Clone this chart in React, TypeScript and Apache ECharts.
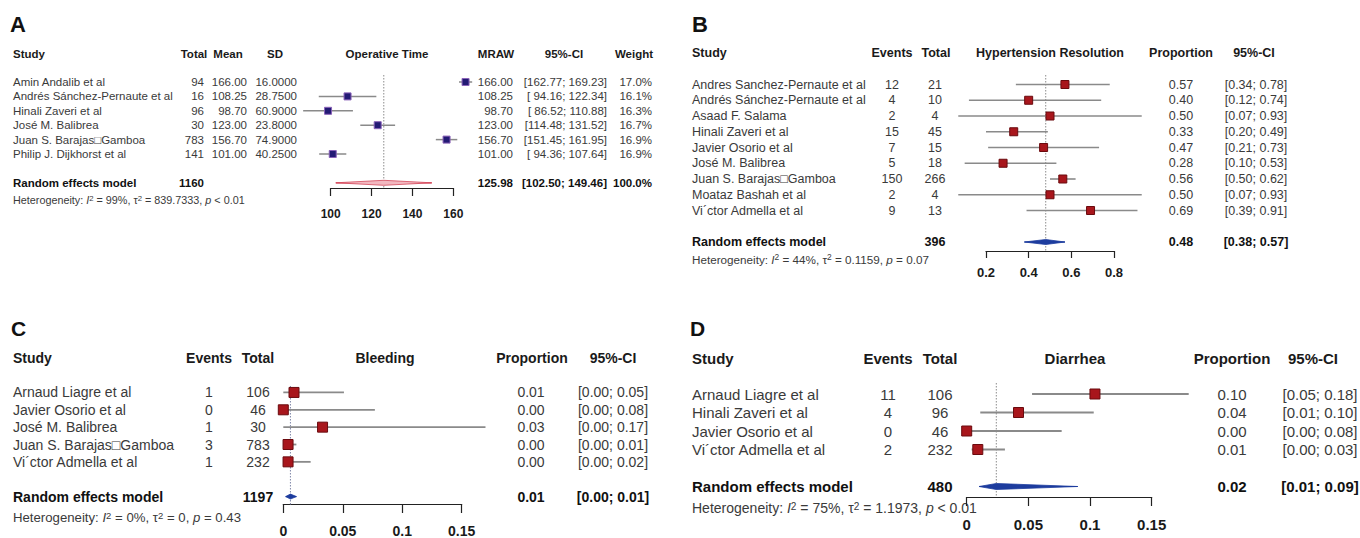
import React, { useEffect, useRef } from "react";
import * as echarts from "echarts";

const FONT = '"Liberation Sans", Arial, Helvetica, sans-serif';

// ---------- Panel A: Operative Time ----------
const studiesA = [
  "Amin Andalib et al",
  "Andrés Sánchez-Pernaute et al",
  "Hinali Zaveri et al",
  "José M. Balibrea",
  "Juan S. Barajas\u25A1Gamboa",
  "Philip J. Dijkhorst et al",
];
const totalA = [94, 16, 96, 30, 783, 141];
const meanA = [166.0, 108.25, 98.7, 123.0, 156.7, 101.0];
const sdA = [16.0, 28.75, 60.9, 23.8, 74.9, 40.25];
const loA = [162.77, 94.16, 86.52, 114.48, 151.45, 94.36];
const hiA = [169.23, 122.34, 110.88, 131.52, 161.95, 107.64];
const weightA = [17.0, 16.1, 16.3, 16.7, 16.9, 16.9];
const pooledTotalA = 1160;
const pooledA = [125.98, 102.5, 149.46];
const ticksA = [100, 120, 140, 160];
const hetA = ["99%", "839.7333", "< 0.01"];

// ---------- Panel B: Hypertension Resolution ----------
const studiesB = [
  "Andres Sanchez-Pernaute et al",
  "Andrés Sánchez-Pernaute et al",
  "Asaad F. Salama",
  "Hinali Zaveri et al",
  "Javier Osorio et al",
  "José M. Balibrea",
  "Juan S. Barajas\u25A1Gamboa",
  "Moataz Bashah et al",
  "Vi\u00B4ctor Admella et al",
];
const eventsB = [12, 4, 2, 15, 7, 5, 150, 2, 9];
const totalB = [21, 10, 4, 45, 15, 18, 266, 4, 13];
const propB = [0.57, 0.4, 0.5, 0.33, 0.47, 0.28, 0.56, 0.5, 0.69];
const loB = [0.34, 0.12, 0.07, 0.2, 0.21, 0.1, 0.5, 0.07, 0.39];
const hiB = [0.78, 0.74, 0.93, 0.49, 0.73, 0.53, 0.62, 0.93, 0.91];
const pooledTotalB = 396;
const pooledB = [0.48, 0.38, 0.57];
const ticksB = [0.2, 0.4, 0.6, 0.8];
const hetB = ["44%", "0.1159", "= 0.07"];

// ---------- Panel C: Bleeding ----------
const studiesC = [
  "Arnaud Liagre et al",
  "Javier Osorio et al",
  "José M. Balibrea",
  "Juan S. Barajas\u25A1Gamboa",
  "Vi\u00B4ctor Admella et al",
];
const eventsC = [1, 0, 1, 3, 1];
const totalC = [106, 46, 30, 783, 232];
const propC = [0.009, 0.0, 0.033, 0.004, 0.004];
const loC = [0.0, 0.0, 0.0, 0.0, 0.0];
const hiC = [0.051, 0.077, 0.17, 0.011, 0.023];
const pooledTotalC = 1197;
const pooledC = [0.006, 0.002, 0.011];
const ticksC = [0, 0.05, 0.1, 0.15];
const hetC = ["0%", "0", "= 0.43"];

// ---------- Panel D: Diarrhea ----------
const studiesD = [
  "Arnaud Liagre et al",
  "Hinali Zaveri et al",
  "Javier Osorio et al",
  "Vi\u00B4ctor Admella et al",
];
const eventsD = [11, 4, 0, 2];
const totalD = [106, 96, 46, 232];
const propD = [0.104, 0.042, 0.0, 0.009];
const loD = [0.053, 0.011, 0.0, 0.004];
const hiD = [0.18, 0.103, 0.077, 0.031];
const pooledTotalD = 480;
const pooledD = [0.024, 0.01, 0.09];
const ticksD = [0, 0.05, 0.1, 0.15];
const hetD = ["75%", "1.1973", "< 0.01"];

// ---------- helpers ----------
const f2 = (v: number) => v.toFixed(2);
const ciStr = (lo: number, hi: number, w = 0) => {
  let a = f2(lo);
  while (a.length < w) a = " " + a;
  return `[${a}; ${f2(hi)}]`;
};

type Align = "left" | "center" | "right";
interface Col {
  header: string;
  headerX: number;
  headerAlign: Align;
  x: number;
  align: Align;
  values: string[];
  pooled: string;
}
interface Panel {
  letter: string;
  letterX: number;
  letterY: number;
  letterSize: number;
  headerY: number;
  plotHeader: string;
  plotHeaderX: number;
  gridLeft: number;
  gridRight: number;
  gridTop: number;
  axisY: number;
  refTop: number;
  row0: number;
  rowStep: number;
  ticks: number[];
  tickLen: number;
  labelMargin: number;
  axisFont: number;
  fontSize: number;
  hetX: number;
  hetY: number;
  hetFont: number;
  het: string[];
  est: number[];
  lo: number[];
  hi: number[];
  pooled: number[];
  cols: Col[];
  sqSize: number;
  sqFill: string;
  sqStroke: string;
  ciWidth: number;
  dFill: string;
  dStroke: string;
  dHalf: number;
  refColor: string;
}

const panels: Panel[] = [
  {
    letter: "A", letterX: 10, letterY: 24, letterSize: 22,
    headerY: 54, plotHeader: "Operative Time", plotHeaderX: 387,
    gridLeft: 330.7, gridRight: 453.3, gridTop: 75, axisY: 188, refTop: 75,
    row0: 82, rowStep: 14.4, ticks: ticksA, tickLen: 8, labelMargin: 20, axisFont: 12,
    fontSize: 11.5, hetX: 13, hetY: 200, hetFont: 10.8, het: hetA,
    est: meanA, lo: loA, hi: hiA, pooled: pooledA,
    cols: [
      { header: "Study", headerX: 13, headerAlign: "left", x: 13, align: "left", values: studiesA, pooled: "Random effects model" },
      { header: "Total", headerX: 194, headerAlign: "center", x: 204, align: "right", values: totalA.map(String), pooled: String(pooledTotalA) },
      { header: "Mean", headerX: 228, headerAlign: "center", x: 247, align: "right", values: meanA.map(f2), pooled: "" },
      { header: "SD", headerX: 275, headerAlign: "center", x: 297, align: "right", values: sdA.map((v) => v.toFixed(4)), pooled: "" },
      { header: "MRAW", headerX: 496, headerAlign: "center", x: 513, align: "right", values: meanA.map(f2), pooled: f2(pooledA[0]) },
      { header: "95%-CI", headerX: 564, headerAlign: "center", x: 607, align: "right", values: loA.map((l, i) => ciStr(l, hiA[i], 6)), pooled: ciStr(pooledA[1], pooledA[2], 6) },
      { header: "Weight", headerX: 634, headerAlign: "center", x: 652, align: "right", values: weightA.map((w) => w.toFixed(1) + "%"), pooled: "100.0%" },
    ],
    sqSize: 7, sqFill: "#231a74", sqStroke: "#8a62b8", ciWidth: 1.5,
    dFill: "#f2b8c0", dStroke: "#d4485a", dHalf: 2.5, refColor: "#8c8c8c",
  },
  {
    letter: "B", letterX: 692, letterY: 24, letterSize: 22,
    headerY: 53, plotHeader: "Hypertension Resolution", plotHeaderX: 1050,
    gridLeft: 986, gridRight: 1114, gridTop: 75, axisY: 251, refTop: 75,
    row0: 84.5, rowStep: 15.75, ticks: ticksB, tickLen: 7, labelMargin: 15, axisFont: 13,
    fontSize: 12.5, hetX: 692, hetY: 259, hetFont: 11.7, het: hetB,
    est: propB, lo: loB, hi: hiB, pooled: pooledB,
    cols: [
      { header: "Study", headerX: 692, headerAlign: "left", x: 692, align: "left", values: studiesB, pooled: "Random effects model" },
      { header: "Events", headerX: 892, headerAlign: "center", x: 892, align: "center", values: eventsB.map(String), pooled: "" },
      { header: "Total", headerX: 936, headerAlign: "center", x: 935, align: "center", values: totalB.map(String), pooled: String(pooledTotalB) },
      { header: "Proportion", headerX: 1181, headerAlign: "center", x: 1181, align: "center", values: propB.map(f2), pooled: f2(pooledB[0]) },
      { header: "95%-CI", headerX: 1254, headerAlign: "center", x: 1256, align: "center", values: loB.map((l, i) => ciStr(l, hiB[i])), pooled: ciStr(pooledB[1], pooledB[2]) },
    ],
    sqSize: 8, sqFill: "#a8161c", sqStroke: "#6a0a0e", ciWidth: 1.6,
    dFill: "#1d3c9e", dStroke: "#1d3c9e", dHalf: 2.5, refColor: "#8c8c8c",
  },
  {
    letter: "C", letterX: 11, letterY: 328, letterSize: 21,
    headerY: 358, plotHeader: "Bleeding", plotHeaderX: 385,
    gridLeft: 283.3, gridRight: 461.7, gridTop: 386, axisY: 505, refTop: 386,
    row0: 392.5, rowStep: 17.5, ticks: ticksC, tickLen: 9, labelMargin: 20, axisFont: 14,
    fontSize: 14, hetX: 13, hetY: 517, hetFont: 13.2, het: hetC,
    est: propC, lo: loC, hi: hiC, pooled: pooledC,
    cols: [
      { header: "Study", headerX: 13, headerAlign: "left", x: 13, align: "left", values: studiesC, pooled: "Random effects model" },
      { header: "Events", headerX: 209, headerAlign: "center", x: 209, align: "center", values: eventsC.map(String), pooled: "" },
      { header: "Total", headerX: 258, headerAlign: "center", x: 258, align: "center", values: totalC.map(String), pooled: String(pooledTotalC) },
      { header: "Proportion", headerX: 532, headerAlign: "center", x: 531, align: "center", values: propC.map(f2), pooled: f2(pooledC[0]) },
      { header: "95%-CI", headerX: 613, headerAlign: "center", x: 613, align: "center", values: loC.map((l, i) => ciStr(l, hiC[i])), pooled: ciStr(pooledC[1], pooledC[2]) },
    ],
    sqSize: 10, sqFill: "#a8161c", sqStroke: "#6a0a0e", ciWidth: 1.8,
    dFill: "#1d3c9e", dStroke: "#1d3c9e", dHalf: 2.5, refColor: "#7f86a8",
  },
  {
    letter: "D", letterX: 690, letterY: 328, letterSize: 21,
    headerY: 358, plotHeader: "Diarrhea", plotHeaderX: 1075,
    gridLeft: 966.7, gridRight: 1151.7, gridTop: 383, axisY: 497, refTop: 383,
    row0: 394, rowStep: 18.5, ticks: ticksD, tickLen: 9, labelMargin: 20, axisFont: 15,
    fontSize: 15, hetX: 692, hetY: 508, hetFont: 14, het: hetD,
    est: propD, lo: loD, hi: hiD, pooled: pooledD,
    cols: [
      { header: "Study", headerX: 692, headerAlign: "left", x: 692, align: "left", values: studiesD, pooled: "Random effects model" },
      { header: "Events", headerX: 888, headerAlign: "center", x: 888, align: "center", values: eventsD.map(String), pooled: "" },
      { header: "Total", headerX: 940, headerAlign: "center", x: 940, align: "center", values: totalD.map(String), pooled: String(pooledTotalD) },
      { header: "Proportion", headerX: 1232, headerAlign: "center", x: 1232, align: "center", values: propD.map(f2), pooled: f2(pooledD[0]) },
      { header: "95%-CI", headerX: 1313, headerAlign: "center", x: 1320, align: "center", values: loD.map((l, i) => ciStr(l, hiD[i])), pooled: ciStr(pooledD[1], pooledD[2]) },
    ],
    sqSize: 10, sqFill: "#a8161c", sqStroke: "#6a0a0e", ciWidth: 1.8,
    dFill: "#1d3c9e", dStroke: "#1d3c9e", dHalf: 3, refColor: "#8c8c8c",
  },
];

function textEl(x: number, y: number, text: string, size: number, bold: boolean, align: Align, fill: string, extra: any = {}) {
  return {
    type: "text",
    x,
    y,
    silent: true,
    style: {
      text,
      fontSize: size,
      fontWeight: bold ? "bold" : "normal",
      fontFamily: FONT,
      fill,
      align,
      verticalAlign: "middle",
      textAlign: align,
      textVerticalAlign: "middle",
      ...extra,
    },
  };
}

function buildOption() {
  const grid: any[] = [];
  const xAxis: any[] = [];
  const yAxis: any[] = [];
  const series: any[] = [];
  const graphics: any[] = [];

  panels.forEach((p, gi) => {
    const n = p.est.length;
    const pooledRow = n + 1;
    const yMin = -(p.row0 - p.gridTop) / p.rowStep;
    const yMax = yMin + (p.axisY - p.gridTop) / p.rowStep;
    grid.push({ left: p.gridLeft, top: p.gridTop, width: p.gridRight - p.gridLeft, height: p.axisY - p.gridTop, containLabel: false });
    xAxis.push({
      gridIndex: gi,
      type: "value",
      min: p.ticks[0],
      max: p.ticks[p.ticks.length - 1],
      interval: p.ticks[1] - p.ticks[0],
      axisLine: { show: true, onZero: false, lineStyle: { color: "#222", width: 1.2 } },
      axisTick: { show: true, length: p.tickLen, lineStyle: { color: "#222", width: 1.2 } },
      axisLabel: {
        margin: p.labelMargin,
        fontSize: p.axisFont,
        fontWeight: "bold",
        fontFamily: FONT,
        color: "#1a1a1a",
        showMinLabel: true,
        showMaxLabel: true,
        formatter: (v: number) => String(Number(v.toFixed(4))),
      },
      splitLine: { show: false },
    });
    yAxis.push({ gridIndex: gi, type: "value", inverse: true, min: yMin, max: yMax, show: false });

    // reference (pooled estimate) line
    series.push({
      type: "custom",
      xAxisIndex: gi,
      yAxisIndex: gi,
      clip: false,
      silent: true,
      z: 1,
      data: [[p.pooled[0], 0]],
      renderItem: (params: any, api: any) => {
        const x = api.coord([api.value(0), 0])[0];
        return {
          type: "line",
          shape: { x1: x, y1: p.refTop, x2: x, y2: p.axisY },
          style: { stroke: p.refColor, lineWidth: 1, lineDash: [1.5, 1.5] },
        };
      },
    });

    const rows: number[][] = p.est.map((e, i) => [e, i, p.lo[i], p.hi[i], 0, i]);
    rows.push([p.pooled[0], pooledRow, p.pooled[1], p.pooled[2], 1, n]);

    series.push({
      type: "custom",
      xAxisIndex: gi,
      yAxisIndex: gi,
      clip: false,
      silent: true,
      z: 2,
      data: rows,
      renderItem: (params: any, api: any) => {
        const est = api.value(0);
        const row = api.value(1);
        const lo = api.value(2);
        const hi = api.value(3);
        const isPooled = api.value(4) === 1;
        const idx = api.value(5);
        const pe = api.coord([est, row]);
        const y = pe[1];
        const xe = pe[0];
        const xl = api.coord([lo, row])[0];
        const xh = api.coord([hi, row])[0];
        const children: any[] = [];
        if (isPooled) {
          children.push({
            type: "line",
            shape: { x1: xl, y1: y, x2: xh, y2: y },
            style: { stroke: p.dStroke, lineWidth: 1.2 },
          });
          children.push({
            type: "polygon",
            shape: { points: [[xl, y], [xe, y - p.dHalf], [xh, y], [xe, y + p.dHalf]] },
            style: { fill: p.dFill, stroke: p.dStroke, lineWidth: 0.8 },
          });
        } else {
          children.push({
            type: "line",
            shape: { x1: xl, y1: y, x2: xh, y2: y },
            style: { stroke: "#8a8a8a", lineWidth: p.ciWidth },
          });
          const s = p.sqSize;
          children.push({
            type: "rect",
            shape: { x: xe - s / 2, y: y - s / 2, width: s, height: s },
            style: { fill: p.sqFill, stroke: p.sqStroke, lineWidth: 1 },
          });
        }
        p.cols.forEach((c) => {
          const t = isPooled ? c.pooled : c.values[idx];
          if (t) children.push(textEl(c.x, y, t, p.fontSize, isPooled, c.align, isPooled ? "#111" : "#3a3a3a"));
        });
        return { type: "group", children };
      },
    });

    // panel letter
    graphics.push(textEl(p.letterX, p.letterY, p.letter, p.letterSize, true, "left", "#111"));
    // headers
    p.cols.forEach((c) => graphics.push(textEl(c.headerX, p.headerY, c.header, p.fontSize, true, c.headerAlign, "#1a1a1a")));
    graphics.push(textEl(p.plotHeaderX, p.headerY, p.plotHeader, p.fontSize, true, "center", "#1a1a1a"));
    // heterogeneity
    const hf = p.hetFont;
    graphics.push(
      textEl(
        p.hetX,
        p.hetY,
        `Heterogeneity: {i|I}{s|2} = ${p.het[0]}, \u03C4{s|2} = ${p.het[1]}, {i|p} ${p.het[2]}`,
        hf,
        false,
        "left",
        "#3a3a3a",
        {
          rich: {
            i: { fontStyle: "italic", fontSize: hf, fontFamily: FONT, fill: "#3a3a3a", color: "#3a3a3a" },
            s: { fontSize: hf * 0.72, fontFamily: FONT, fill: "#3a3a3a", color: "#3a3a3a", verticalAlign: "top" },
          },
        }
      )
    );
  });

  return {
    animation: false,
    backgroundColor: "#ffffff",
    grid,
    xAxis,
    yAxis,
    series,
    graphic: { elements: graphics },
  };
}

export default function App() {
  const ref = useRef<HTMLDivElement>(null);
  useEffect(() => {
    if (!ref.current) return;
    const chart = echarts.init(ref.current, undefined, { renderer: "svg" });
    chart.setOption(buildOption() as any);
    return () => chart.dispose();
  }, []);
  return (
    <div
      ref={ref}
      style={{ position: "absolute", left: 0, top: 0, width: 1360, height: 538, background: "#fff" }}
    />
  );
}
